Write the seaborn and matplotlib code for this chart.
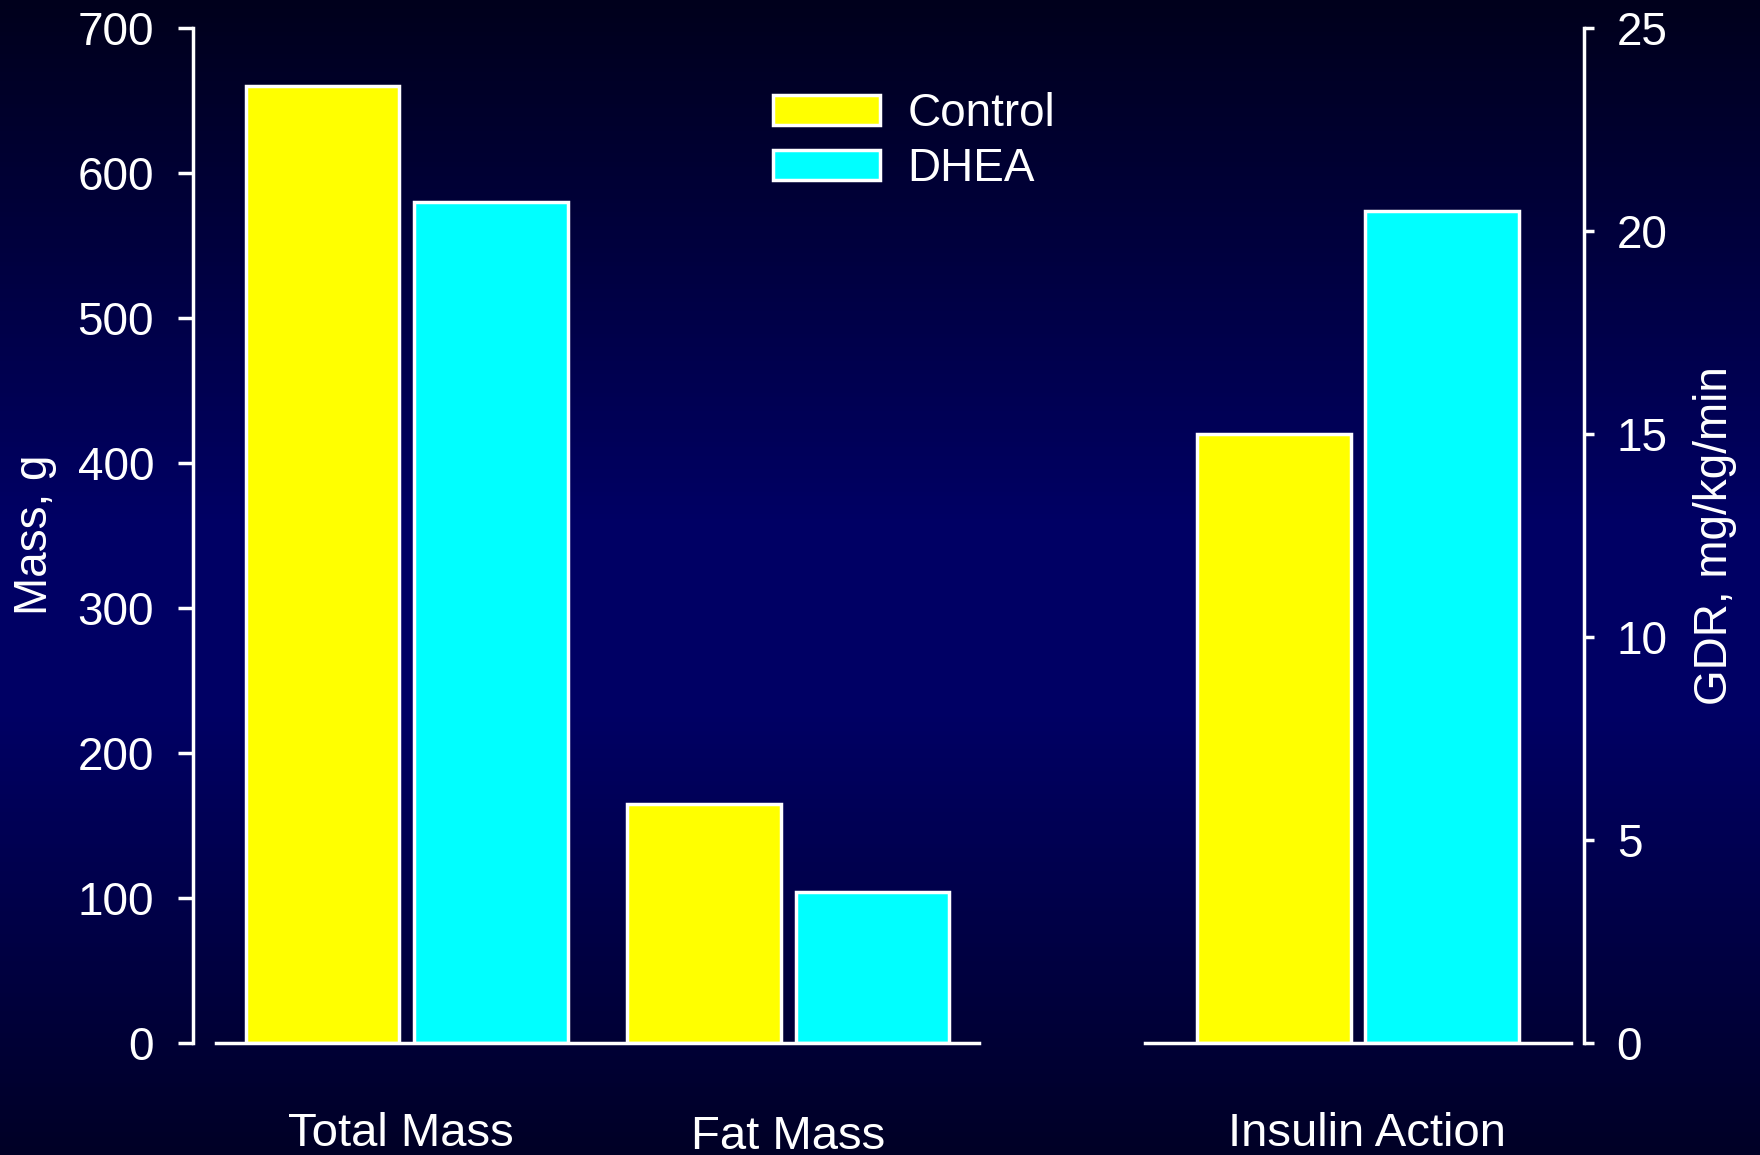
import numpy as np
import pandas as pd
import matplotlib
matplotlib.use("Agg")
import matplotlib.pyplot as plt
import matplotlib.transforms as mtransforms
from matplotlib.colors import LinearSegmentedColormap
import seaborn as sns

# data
groups = ["Control", "DHEA"]
mass_categories = ["Total Mass", "Fat Mass"]
mass_control = [660, 165]
mass_dhea = [580, 104]
gdr_categories = ["Insulin Action"]
gdr_control = [15.0]
gdr_dhea = [20.5]
mass_ticks = [0, 100, 200, 300, 400, 500, 600, 700]
gdr_ticks = [0, 5, 10, 15, 20, 25]

palette = {"Control": "#ffff00", "DHEA": "#00ffff"}

mass_df = pd.DataFrame({
    "category": mass_categories * 2,
    "group": ["Control"] * len(mass_categories) + ["DHEA"] * len(mass_categories),
    "value": mass_control + mass_dhea,
})
gdr_df = pd.DataFrame({
    "category": gdr_categories * 2,
    "group": ["Control"] * len(gdr_categories) + ["DHEA"] * len(gdr_categories),
    "value": gdr_control + gdr_dhea,
})

sns.set_style("ticks")
plt.rcParams["font.family"] = ["Liberation Sans", "DejaVu Sans"]
plt.rcParams["text.color"] = "white"
plt.rcParams["axes.labelcolor"] = "white"
plt.rcParams["xtick.color"] = "white"
plt.rcParams["ytick.color"] = "white"

W, H = 1760, 1155
fig = plt.figure(figsize=(W / 100, H / 100), dpi=100)

# navy vertical gradient background
bg = fig.add_axes([0, 0, 1, 1], zorder=-10)
cmap = LinearSegmentedColormap.from_list(
    "bg", [(0.0, "#00001c"), (0.45, "#000064"), (0.62, "#000064"), (1.0, "#000026")]
)
bg.imshow(np.linspace(0, 1, 256).reshape(-1, 1), aspect="auto", cmap=cmap,
          extent=[0, 1, 0, 1], origin="upper")
bg.axis("off")

FS = 33
LW = 2.5
base_y = 1043
top_y = 28


def px_box(x0, x1):
    return [x0 / W, (H - base_y) / H, (x1 - x0) / W, (base_y - top_y) / H]


ax1 = fig.add_axes(px_box(216, 979))
ax2 = fig.add_axes(px_box(1145, 1571))

sns.barplot(data=mass_df, x="category", y="value", hue="group", palette=palette,
            order=mass_categories, hue_order=groups, width=0.885, gap=0.09,
            edgecolor="white", linewidth=LW, saturation=1, ax=ax1)
sns.barplot(data=gdr_df, x="category", y="value", hue="group", palette=palette,
            order=gdr_categories, hue_order=groups, width=0.785, gap=0.08,
            edgecolor="white", linewidth=LW, saturation=1, ax=ax2, legend=False)

for ax in (ax1, ax2):
    ax.set_facecolor("none")
    ax.set_xlabel("")
    ax.set_ylabel("")
    for s in ax.spines.values():
        s.set_color("white")
        s.set_linewidth(LW)
    ax.tick_params(axis="x", length=0, pad=50, labelsize=34)
    ax.tick_params(axis="y", width=LW, labelsize=FS)

ax1.set_xlim(-0.5, len(mass_categories) - 0.5)
ax1.set_ylim(0, 700)
ax1.set_yticks(mass_ticks)
ax1.spines["top"].set_visible(False)
ax1.spines["right"].set_visible(False)
ax1.spines["left"].set_position(("outward", 16.6))
ax1.tick_params(axis="y", length=11, pad=17)

ax2.set_xlim(-0.5, len(gdr_categories) - 0.5)
ax2.set_ylim(0, 25)
ax2.set_yticks(gdr_ticks)
ax2.yaxis.tick_right()
ax2.spines["top"].set_visible(False)
ax2.spines["left"].set_visible(False)
ax2.spines["right"].set_position(("outward", 9.4))
ax2.tick_params(axis="y", length=7, pad=16.5)

# small hand-placed nudges of the category labels, as in the original slide
nudges = {"Total Mass": (-6, 0), "Fat Mass": (0, -3), "Insulin Action": (9, 0)}
for ax in (ax1, ax2):
    for lab in ax.get_xticklabels():
        dx, dy = nudges.get(lab.get_text(), (0, 0))
        lab.set_transform(lab.get_transform() + mtransforms.ScaledTranslation(
            dx / 100, dy / 100, fig.dpi_scale_trans))

fig.text(35 / W, 1 - 535 / H, "Mass, g", rotation=90, ha="center", va="center",
         fontsize=FS, color="white")
fig.text(1715 / W, 1 - 536 / H, "GDR, mg/kg/min", rotation=90, ha="center",
         va="center", fontsize=FS, color="white")

ax1.legend(loc="upper left", bbox_to_anchor=(773 / W, 1 - 92 / H),
           bbox_transform=fig.transFigure, frameon=False, fontsize=FS,
           handlelength=2.33, handleheight=0.62, handletextpad=0.6,
           labelspacing=0.25, borderpad=0, borderaxespad=0)

fig.savefig("out.png", dpi=100)
plt.close(fig)
